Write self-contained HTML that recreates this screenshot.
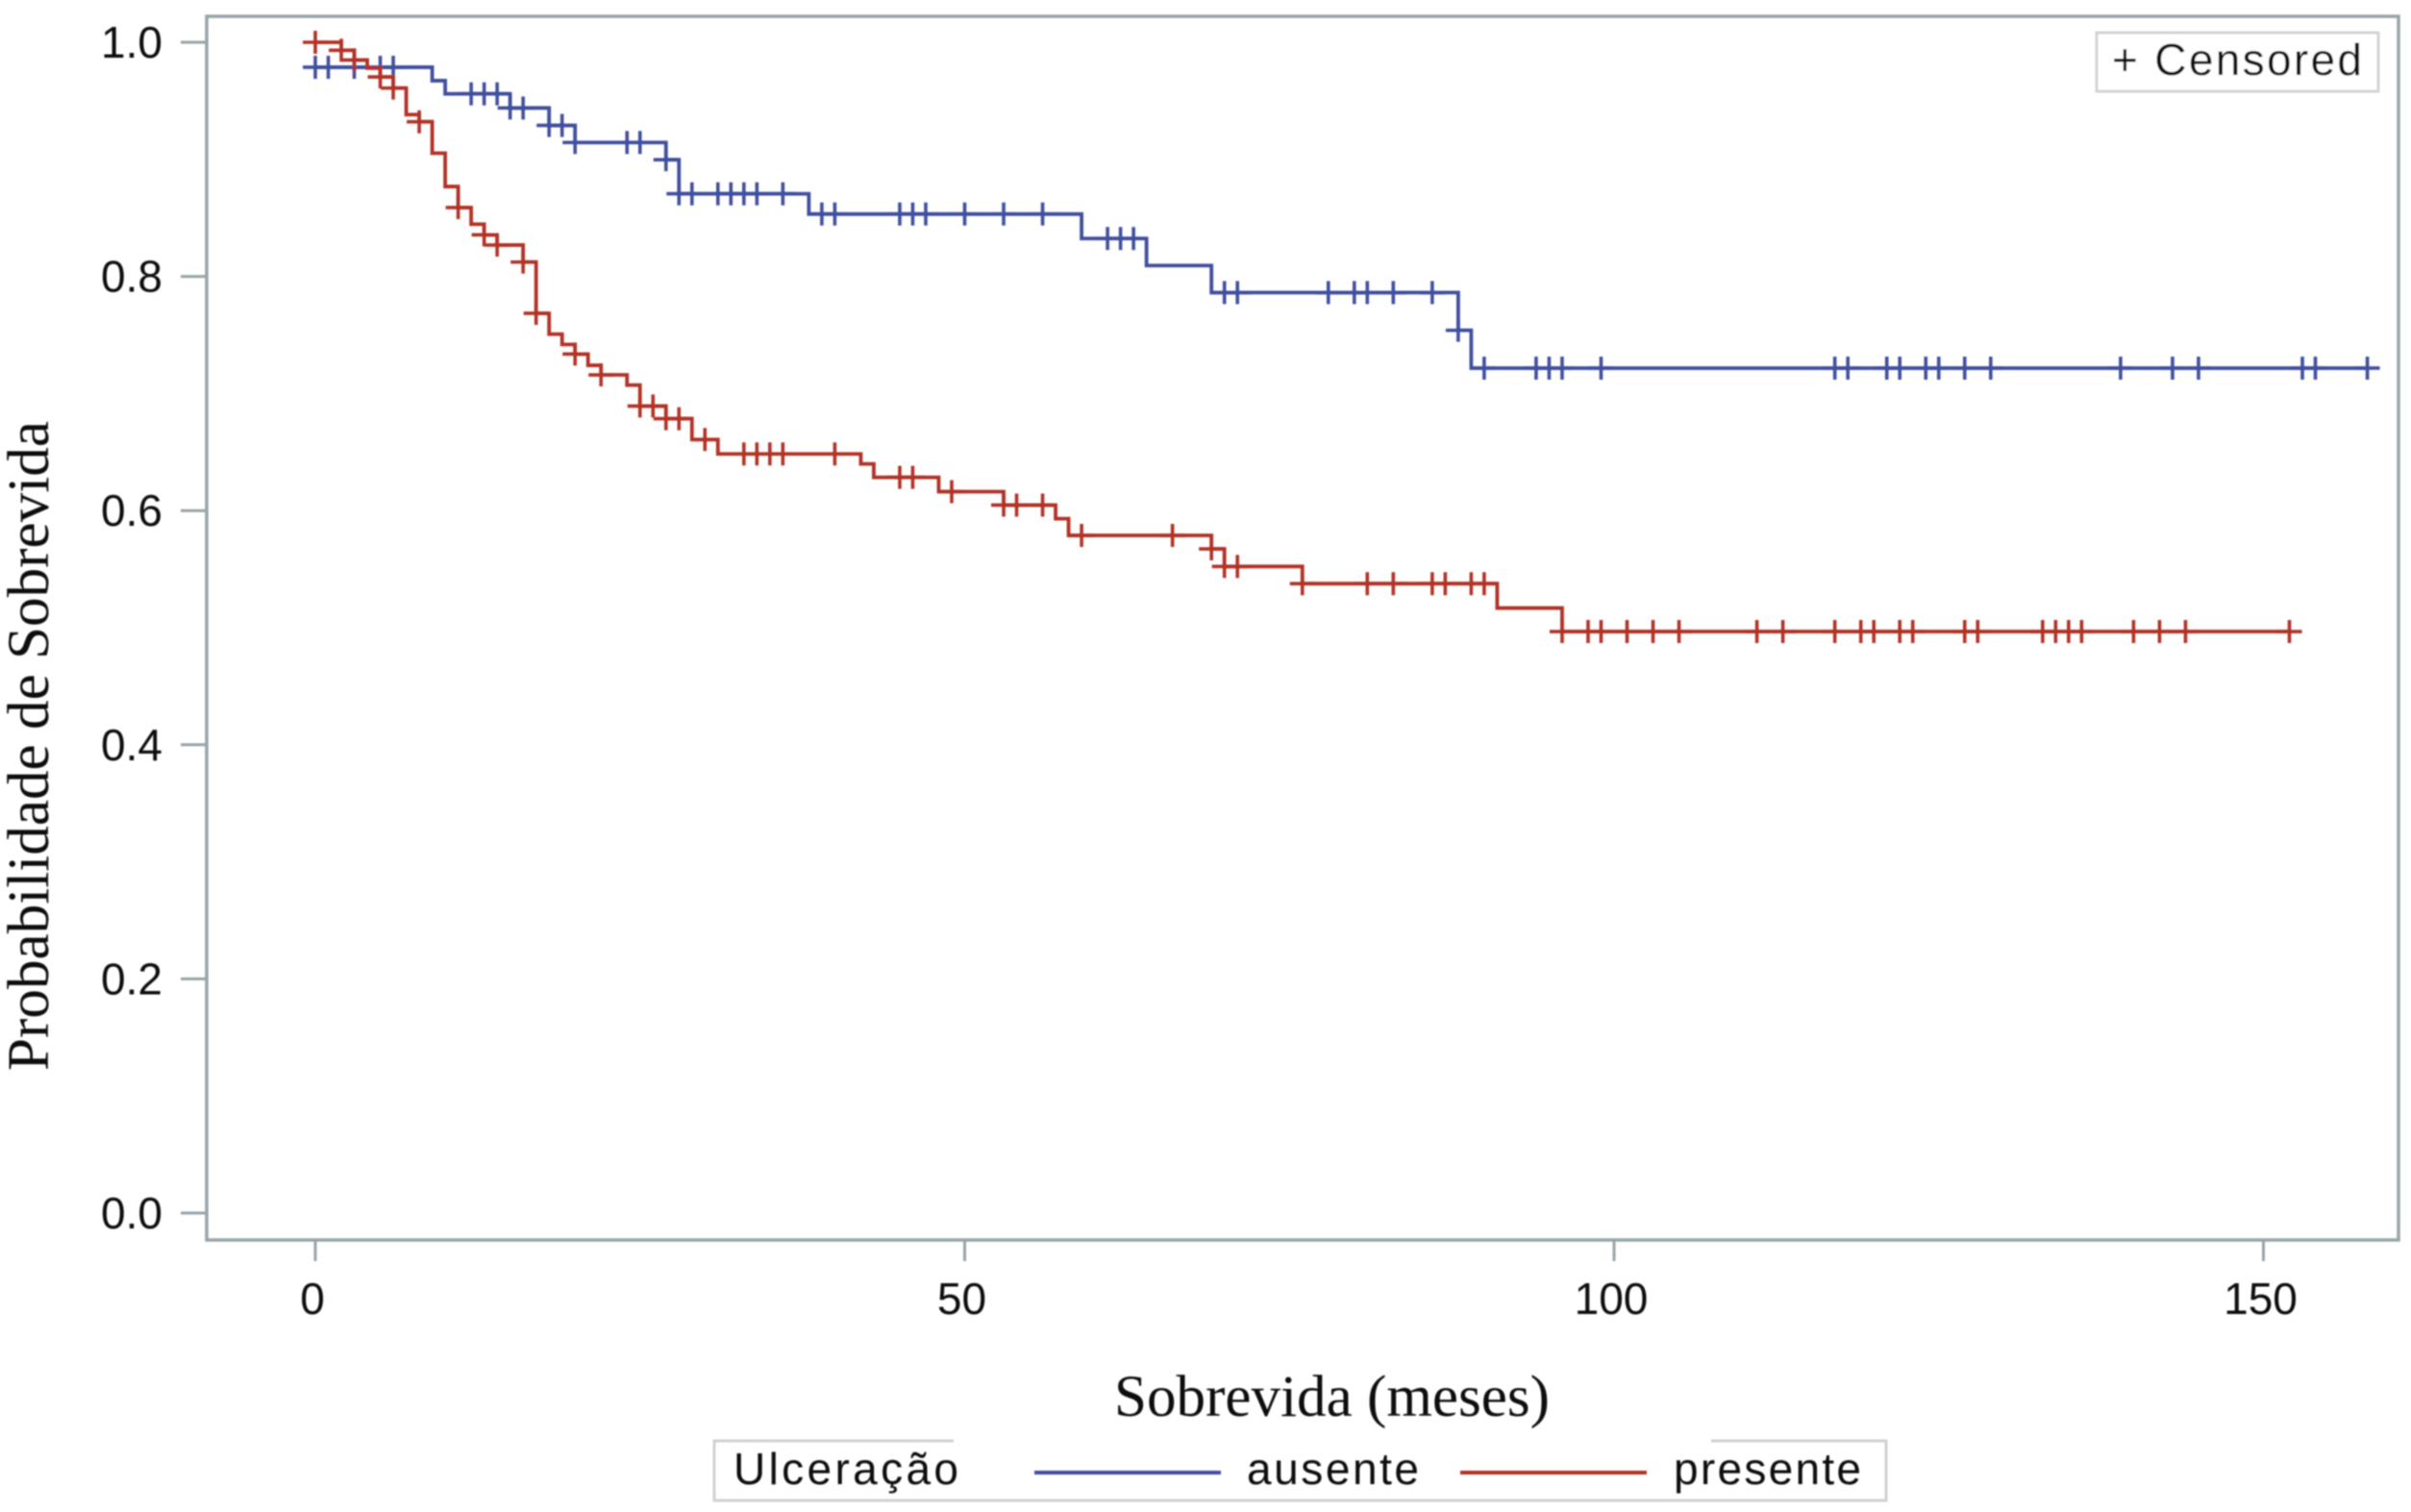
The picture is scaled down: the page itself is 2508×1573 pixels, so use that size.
<!DOCTYPE html>
<html lang="pt">
<head>
<meta charset="utf-8">
<title>Probabilidade de Sobrevida</title>
<style>
html,body{margin:0;padding:0;background:#fff;}
svg{display:block;}
text{fill:#0c0c0c;}
.sans{font-family:"Liberation Sans",Arial,sans-serif;font-size:46px;}
.serif{font-family:"Liberation Serif","Times New Roman",serif;font-size:61px;}
</style>
</head>
<body>
<svg id="chart" xmlns="http://www.w3.org/2000/svg" width="2508" height="1573" viewBox="0 0 2508 1573">
  <defs>
    <filter id="soft" x="-2%" y="-2%" width="104%" height="104%"><feGaussianBlur stdDeviation="0.7"/></filter>
  </defs>
  <rect x="0" y="0" width="2508" height="1573" fill="#ffffff"/>
  <g id="root" filter="url(#soft)">
    <rect x="215" y="17" width="2280" height="1273" fill="none" stroke="#98a4a8" stroke-width="3.5"/>
    <g id="axes"></g>
    <g id="series"></g>

    <g>
      <rect x="2181" y="34" width="293" height="61" fill="#ffffff" stroke="#d2d4d4" stroke-width="3"/>
      <text class="sans" x="2197" y="78" textLength="260" lengthAdjust="spacing">+ Censored</text>
    </g>

    <text class="serif" x="1159" y="1473" textLength="453" lengthAdjust="spacingAndGlyphs">Sobrevida (meses)</text>
    <text class="serif" transform="translate(50 1114) rotate(-90)" x="0" y="0" textLength="676" lengthAdjust="spacingAndGlyphs">Probabilidade de Sobrevida</text>

    <g>
      <path d="M992 1499H743V1561H1962V1499H1780" fill="none" stroke="#cfd1d1" stroke-width="3"/>
      <text class="sans" x="763" y="1544" textLength="234" lengthAdjust="spacing">Ulceração</text>
      <line x1="1076" y1="1532" x2="1270" y2="1532" stroke="#3f4f9e" stroke-width="4"/>
      <text class="sans" x="1297" y="1544" textLength="179" lengthAdjust="spacing">ausente</text>
      <line x1="1519" y1="1532" x2="1713" y2="1532" stroke="#b23225" stroke-width="4"/>
      <text class="sans" x="1741" y="1544" textLength="195" lengthAdjust="spacing">presente</text>
    </g>
  </g>
</svg>
<script>
// Axis tick labels
const xTickValues = [0, 50, 100, 150];
const xTickLabels = ["0", "50", "100", "150"];
const yTickValues = [0, 0.2, 0.4, 0.6, 0.8, 1.0];
const yTickLabels = ["0.0", "0.2", "0.4", "0.6", "0.8", "1.0"];

// "ausente" series: survival at start, step times (months), survival after each step, censor times
const ausenteStart = 0.9787;
const ausenteStepTimes = [9, 10, 15, 18, 20, 27, 28, 38, 59, 64, 69, 88, 89];
const ausenteStepValues = [0.9672, 0.956, 0.9439, 0.929, 0.9144, 0.8997, 0.8706, 0.8533, 0.8324, 0.8093, 0.7862, 0.754, 0.7217];
const ausenteCensored = [0, 1, 3, 5, 6, 12, 13, 14, 15, 16, 18, 19, 20, 24, 25, 27, 28, 29, 31, 32, 33, 34, 36, 39, 40, 45, 46, 47, 50, 53, 56, 61, 62, 63, 70, 71, 78, 80, 81, 83, 86, 88, 90, 94, 95, 96, 99, 117, 118, 121, 122, 124, 125, 127, 129, 139, 143, 145, 153, 154, 158];

// "presente" series
const presenteStart = 1.0;
const presenteStepTimes = [2, 3, 4, 5, 6, 7, 8, 9, 10, 11, 12, 13, 14, 16, 17, 18, 19, 20, 21, 22, 24, 25, 27, 29, 31, 42, 43, 48, 53, 57, 58, 69, 70, 76, 91, 96];
const presenteStepValues = [0.9932, 0.9849, 0.978, 0.9704, 0.9609, 0.9382, 0.9321, 0.9053, 0.8768, 0.8588, 0.8446, 0.8355, 0.8268, 0.8123, 0.7685, 0.7507, 0.7419, 0.7337, 0.7241, 0.7159, 0.7072, 0.6893, 0.6785, 0.6607, 0.6484, 0.6399, 0.6284, 0.6162, 0.6047, 0.5931, 0.5788, 0.5673, 0.5523, 0.5376, 0.5168, 0.4967];
const presenteCensored = [0, 2, 3, 5, 6, 8, 11, 13, 14, 16, 17, 20, 22, 25, 26, 27, 28, 30, 33, 34, 35, 36, 40, 45, 46, 49, 53, 54, 56, 59, 66, 69, 70, 71, 76, 81, 83, 86, 87, 89, 90, 96, 98, 99, 101, 103, 105, 111, 113, 117, 119, 120, 122, 123, 127, 128, 133, 134, 135, 136, 140, 142, 144, 152];

const SVGNS = "http://www.w3.org/2000/svg";
const xScale = function (t) { return 328 + t * 13.51; };
const yScale = function (s) { return 1262 - s * 1218; };

const axesGroup = document.getElementById("axes");
const seriesGroup = document.getElementById("series");

function make(tag, attrs, parent) {
  const el = document.createElementNS(SVGNS, tag);
  Object.keys(attrs).forEach(function (k) { el.setAttribute(k, attrs[k]); });
  parent.appendChild(el);
  return el;
}

xTickValues.forEach(function (v, i) {
  const tick = make("line", { x1: xScale(v), x2: xScale(v), y1: 1290, y2: 1312, stroke: "#98a4a8", "stroke-width": 3 }, axesGroup);
  
  
  const label = make("text", { x: xScale(v) - 3, y: 1367, "text-anchor": "middle", "class": "sans" }, axesGroup);
  
  
  label.textContent = xTickLabels[i];
});

yTickValues.forEach(function (v, i) {
  const tick = make("line", { x1: 188, x2: 215, y1: yScale(v), y2: yScale(v), stroke: "#98a4a8", "stroke-width": 3 }, axesGroup);
  
  
  const label = make("text", { x: 169, y: yScale(v) + 16, "text-anchor": "end", "class": "sans" }, axesGroup);
  
  
  label.textContent = yTickLabels[i];
});

function valueAt(t, start, times, values) {
  let s = start;
  for (let i = 0; i < times.length; i++) {
    if (times[i] <= t) { s = values[i]; }
  }
  return s;
}

function drawSeries(key, color, start, times, values, censored) {
  const g = make("g", {}, seriesGroup);
  
  

  let d = "M" + xScale(0) + " " + yScale(start);
  let current = start;
  times.forEach(function (t, i) {
    d += "V" + yScale(current) + "H" + xScale(t) + "V" + yScale(values[i]);
    current = values[i];
  });
  d += "H" + xScale(censored[censored.length - 1]);
  const line = make("path", { d: d, fill: "none", stroke: color, "stroke-width": 3.8, "stroke-linejoin": "miter" }, g);
  
  

  censored.forEach(function (t) {
    const cx = xScale(t);
    const cy = yScale(valueAt(t, start, times, values));
    const mark = make("path", {
      d: "M" + (cx - 13) + " " + cy + "H" + (cx + 13) + "M" + cx + " " + (cy - 12) + "V" + (cy + 12),
      fill: "none", stroke: color, "stroke-width": 3.6
    }, g);
    
    
  });
}

drawSeries("ausente", "#3f4f9e", ausenteStart, ausenteStepTimes, ausenteStepValues, ausenteCensored);
drawSeries("presente", "#b23225", presenteStart, presenteStepTimes, presenteStepValues, presenteCensored);
</script>
</body>
</html>
